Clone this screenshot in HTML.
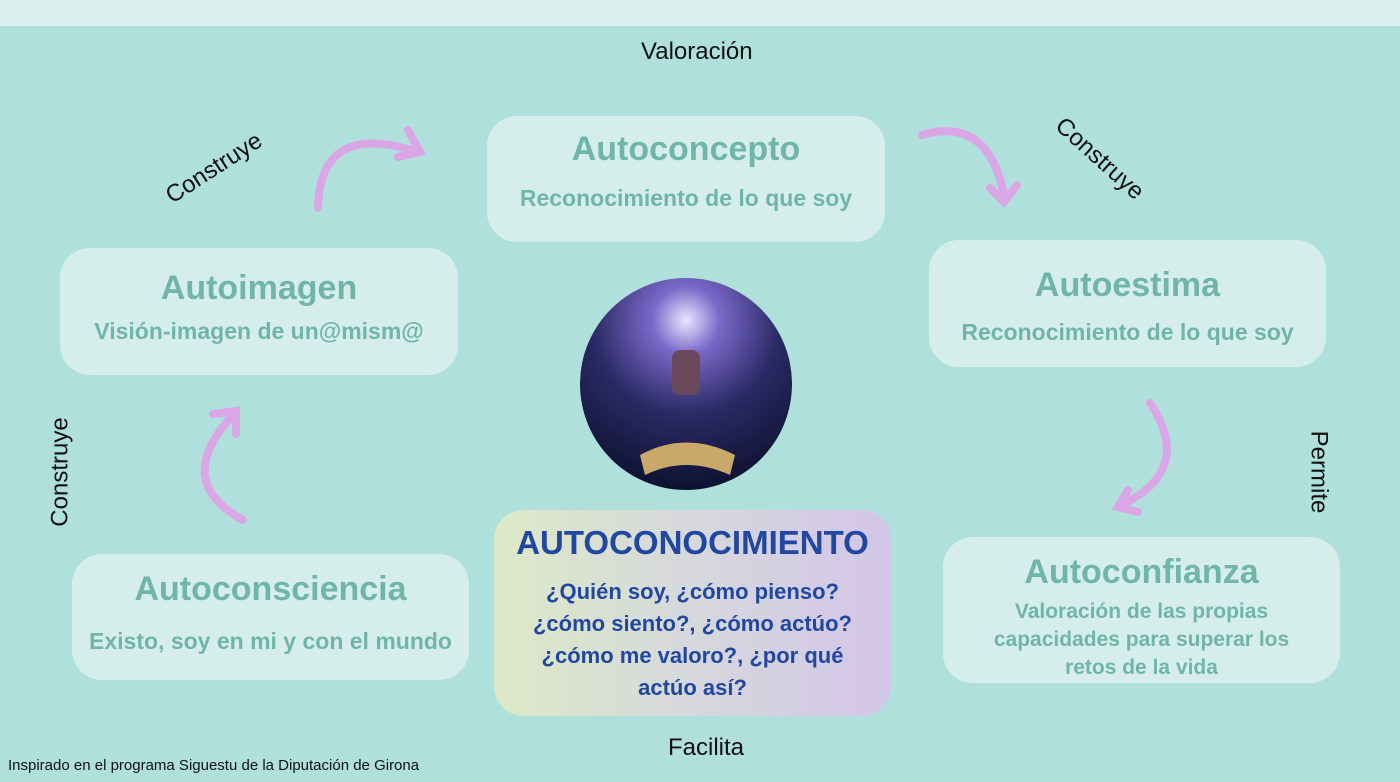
<!DOCTYPE html>
<html><head><meta charset="utf-8"><style>
body{margin:0;width:1400px;height:782px;overflow:hidden;background:#b0e0dc;font-family:"Liberation Sans",sans-serif;position:relative}
.top{position:absolute;left:0;top:0;width:1400px;height:26px;background:#d8efed}
.box{position:absolute;background:#d6eeeb;border-radius:30px;text-align:center;color:#6fb5aa;font-weight:bold}
.box h1{margin:0;font-size:34px}
.box p{margin:0;font-size:23px}
.lbl{position:absolute;font-size:24px;color:#111;white-space:nowrap}
</style></head><body>
<div class="top"></div>
<div class="lbl" style="left:641px;top:38px">Valoración</div>
<div class="lbl" style="left:668px;top:734px">Facilita</div>
<div class="lbl" style="left:8px;top:757px;font-size:15px">Inspirado en el programa Siguestu de la Diputación de Girona</div>
<div class="lbl" style="left:176px;top:182px;transform:rotate(-33deg);transform-origin:0 100%">Construye</div>
<div class="lbl" style="left:1068px;top:112px;transform:rotate(42deg);transform-origin:0 0">Construye</div>
<div class="lbl" style="left:1277px;top:458px;transform:rotate(90deg);transform-origin:50% 50%">Permite</div>
<div class="lbl" style="left:6px;top:458px;transform:rotate(-90deg);transform-origin:50% 50%">Construye</div>

<div class="box" style="left:487px;top:116px;width:398px;height:126px"><h1 style="margin-top:14px">Autoconcepto</h1><p style="margin-top:16px">Reconocimiento de lo que soy</p></div>
<div class="box" style="left:60px;top:248px;width:398px;height:127px"><h1 style="margin-top:21px">Autoimagen</h1><p style="margin-top:10px">Visión-imagen de un@mism@</p></div>
<div class="box" style="left:929px;top:240px;width:397px;height:127px"><h1 style="margin-top:26px">Autoestima</h1><p style="margin-top:14px">Reconocimiento de lo que soy</p></div>
<div class="box" style="left:72px;top:554px;width:397px;height:126px"><h1 style="margin-top:16px">Autoconsciencia</h1><p style="margin-top:19px">Existo, soy en mi y con el mundo</p></div>
<div class="box" style="left:943px;top:537px;width:397px;height:146px"><h1 style="margin-top:16px">Autoconfianza</h1><p style="margin-top:6px;font-size:21px;line-height:28px">Valoración de las propias<br>capacidades para superar los<br>retos de la vida</p></div>
<div class="box" style="left:494px;top:510px;width:397px;height:206px;background:linear-gradient(90deg,#dde9c6,#d6d8dc 50%,#d3c5e8);color:#2148a0"><h1 style="margin-top:14px;font-size:33px">AUTOCONOCIMIENTO</h1><p style="margin-top:14px;font-size:22px;line-height:32px">¿Quién soy, ¿cómo pienso?<br>¿cómo siento?, ¿cómo actúo?<br>¿cómo me valoro?, ¿por qué<br>actúo así?</p></div>

<svg style="position:absolute;left:0;top:0" width="1400" height="782">
<defs>
<radialGradient id="g" cx="50%" cy="20%" r="80%"><stop offset="0" stop-color="#e8e6ff"/><stop offset=".2" stop-color="#7a68c8"/><stop offset=".55" stop-color="#2b2a66"/><stop offset="1" stop-color="#0e1230"/></radialGradient>
</defs>
<circle cx="686" cy="384" r="106" fill="url(#g)"/>
<path d="M640 455 Q686 430 735 455 L730 475 Q686 455 645 475Z" fill="#c9a86a"/>
<rect x="672" y="350" width="28" height="45" rx="8" fill="#6a4a5a"/>
<g fill="none" stroke="#dba6e6" stroke-width="8" stroke-linecap="round">
<path d="M318 208 Q320 120 418 152"/><path d="M408 130 L420 152 L398 157"/>
<path d="M922 135 Q990 115 1005 200"/><path d="M990 188 L1004 202 L1017 185"/>
<path d="M1150 403 Q1195 470 1120 506"/><path d="M1128 490 L1118 507 L1138 512"/>
<path d="M243 520 Q170 480 236 412"/><path d="M213 414 L236 411 L236 434"/>
</g>
</svg>
</body></html>
